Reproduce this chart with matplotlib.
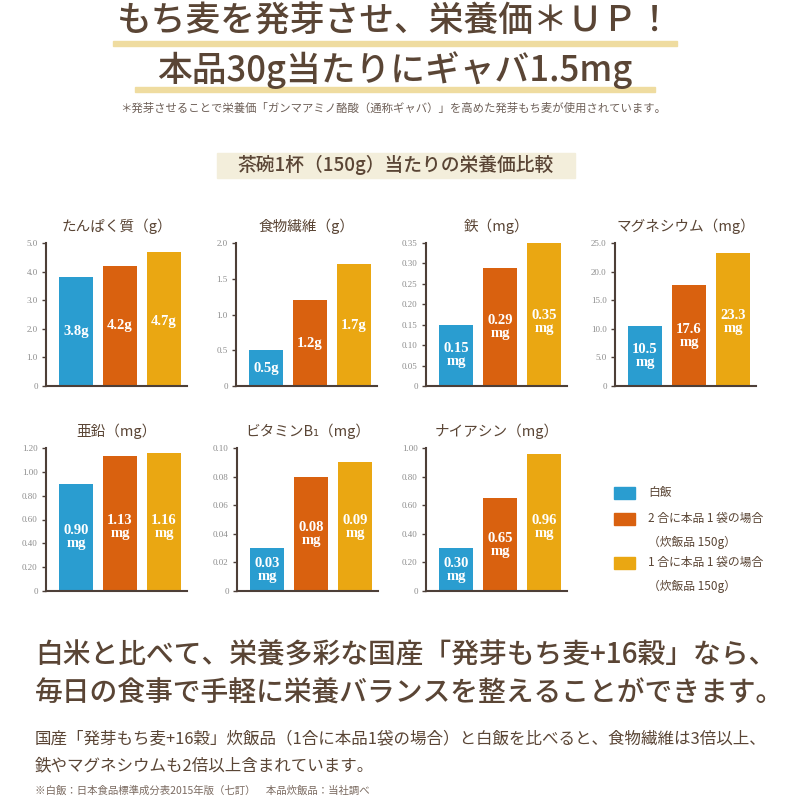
import numpy as np
import matplotlib
matplotlib.use("Agg")
import matplotlib.pyplot as plt
from matplotlib.patches import Rectangle
from matplotlib import ticker

plt.rcParams['font.family'] = ['Noto Sans CJK JP', 'DejaVu Sans']

# --- data -------------------------------------------------------------
series = ["白飯",
          "2 合に本品 1 袋の場合\n（炊飯品 150g）",
          "1 合に本品 1 袋の場合\n（炊飯品 150g）"]
colors = ["#2a9dd0", "#d9610f", "#eaa712"]

titles = ["たんぱく質（g）", "食物繊維（g）", "鉄（mg）", "マグネシウム（mg）",
          "亜鉛（mg）", "ビタミンB₁（mg）", "ナイアシン（mg）"]
units = ["g", "g", "mg", "mg", "mg", "mg", "mg"]

protein = [3.8, 4.2, 4.7]
fiber = [0.5, 1.2, 1.7]
iron = [0.15, 0.29, 0.35]
magnesium = [10.5, 17.6, 23.3]
zinc = [0.90, 1.13, 1.16]
vitamin_b1 = [0.03, 0.08, 0.09]
niacin = [0.30, 0.65, 0.96]
values = [protein, fiber, iron, magnesium, zinc, vitamin_b1, niacin]

y_max = [5.0, 2.0, 0.35, 25.0, 1.20, 0.10, 1.00]
y_step = [1.0, 0.5, 0.05, 5.0, 0.20, 0.02, 0.20]
decimals = [1, 1, 2, 1, 2, 2, 2]

# --- layout -----------------------------------------------------------
W = H = 800.0
txt = "#5a4535"
axis_col = "#4d3f38"
serif = ['Liberation Serif', 'DejaVu Serif']

fig = plt.figure(figsize=(8, 8), dpi=100)
fig.patch.set_facecolor("white")


def fx(x):
    return x / W


def fy(y):
    return 1 - y / H


# header
fig.text(fx(395), fy(22), "もち麦を発芽させ、栄養価＊ＵＰ！", ha="center", va="center",
         fontsize=25, color=txt, weight="medium", zorder=3)
fig.patches.append(Rectangle((fx(113), fy(46)), fx(564), 5 / H, transform=fig.transFigure,
                             color="#efdca0", zorder=1))
fig.text(fx(395), fy(70), "本品30g当たりにギャバ1.5mg", ha="center", va="center",
         fontsize=25, color=txt, weight="medium", zorder=3)
fig.patches.append(Rectangle((fx(135), fy(92)), fx(520), 5 / H, transform=fig.transFigure,
                             color="#efdca0", zorder=1))
fig.text(fx(393), fy(108),
         "＊発芽させることで栄養価「ガンマアミノ酪酸（通称ギャバ）」を高めた発芽もち麦が使用されています。",
         ha="center", va="center", fontsize=8.2, color="#6e6058")

fig.patches.append(Rectangle((fx(217), fy(178)), fx(358), 25 / H, transform=fig.transFigure,
                             color="#f3eedb", zorder=1))
fig.text(fx(396), fy(165), "茶碗1杯（150g）当たりの栄養価比較", ha="center", va="center",
         fontsize=13.5, color=txt, weight="medium", zorder=3)

# charts
lefts = [46, 236, 426, 615, 46, 237, 426]
bottoms = [386, 386, 386, 386, 591, 591, 591]
aw, ah = 141, 143

for k in range(7):
    ax = fig.add_axes([fx(lefts[k]), fy(bottoms[k]), fx(aw), ah / H])
    vals = values[k]
    x = np.arange(len(vals))
    ax.bar(x, vals, width=0.77, color=colors)
    ax.set_xlim(-0.68, 2.52)
    ax.set_ylim(0, y_max[k])
    n = int(round(y_max[k] / y_step[k]))
    ax.set_yticks(np.linspace(0, y_max[k], n + 1))
    d = decimals[k]
    ax.yaxis.set_major_formatter(ticker.FuncFormatter(
        lambda v, _, d=d: "0" if abs(v) < 1e-9 else f"{v:.{d}f}"))
    ax.set_xticks([])
    for s in ["top", "right"]:
        ax.spines[s].set_visible(False)
    for s in ["left", "bottom"]:
        ax.spines[s].set_color(axis_col)
        ax.spines[s].set_linewidth(1.5)
    ax.tick_params(axis="y", length=3, width=1, color=axis_col, pad=3,
                   labelsize=6.5, labelcolor="#8c8c8c")
    for lab in ax.get_yticklabels():
        lab.set_family(serif)
    ax.set_facecolor("none")
    ax.text(0.5, 1 + 17 / ah, titles[k], transform=ax.transAxes, ha="center",
            va="center", fontsize=10.5, color=txt)
    for i, v in enumerate(vals):
        if units[k] == "g":
            s = f"{v:.{d}f}g"
        else:
            s = f"{v:.{d}f}\nmg"
        ax.text(i, min(v / 2, 0.45 * y_max[k]), s, ha="center", va="center",
                color="white", fontsize=10.5, weight="bold", family=serif,
                linespacing=1.0)

# legend
leg_y = [493, 519, 563]
for i in range(3):
    fig.patches.append(Rectangle((fx(614), fy(leg_y[i] + 6)), fx(21), 12 / H,
                                 transform=fig.transFigure, color=colors[i]))
    fig.text(fx(648), fy(leg_y[i] - 7), series[i], ha="left", va="top",
             fontsize=8.5, color=txt, linespacing=2.1)

# bottom text
fig.text(fx(35), fy(655), "白米と比べて、栄養多彩な国産「発芽もち麦+16穀」なら、",
         ha="left", va="center", fontsize=20, color=txt, weight="medium")
fig.text(fx(35), fy(693), "毎日の食事で手軽に栄養バランスを整えることができます。",
         ha="left", va="center", fontsize=20, color=txt, weight="medium")
fig.text(fx(35), fy(739),
         "国産「発芽もち麦+16穀」炊飯品（1合に本品1袋の場合）と白飯を比べると、食物繊維は3倍以上、",
         ha="left", va="center", fontsize=11.9, color=txt)
fig.text(fx(35), fy(766), "鉄やマグネシウムも2倍以上含まれています。",
         ha="left", va="center", fontsize=11.9, color=txt)
fig.text(fx(35), fy(791), "※白飯：日本食品標準成分表2015年版（七訂）　本品炊飯品：当社調べ",
         ha="left", va="center", fontsize=7.5, color="#7a6a60")

fig.savefig("out.png", dpi=100, facecolor="white")
